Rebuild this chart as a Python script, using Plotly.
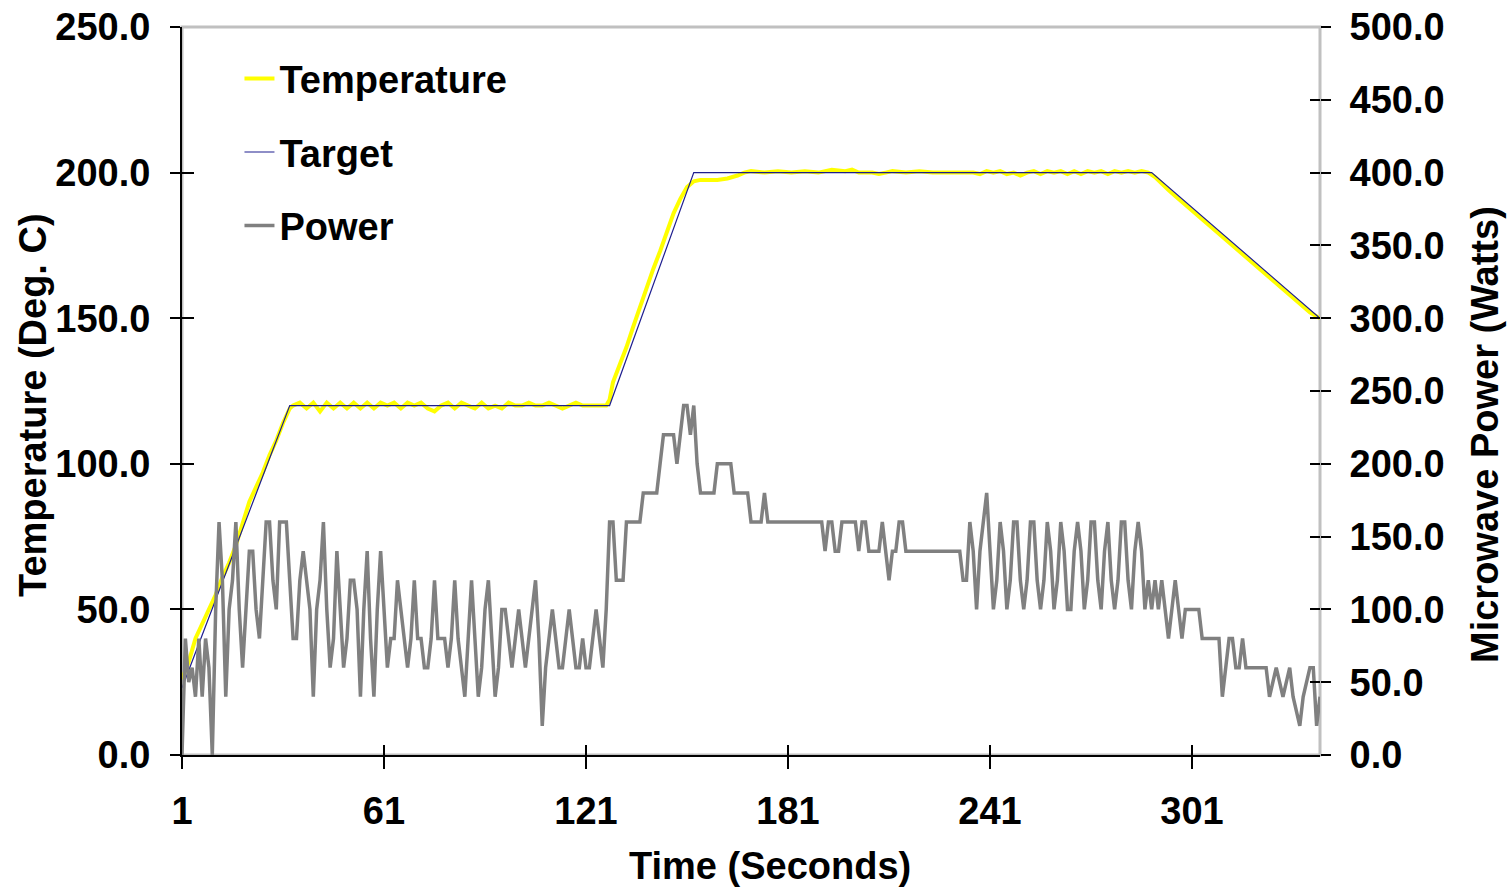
import plotly.graph_objects as go

# Time axis (seconds), one power sample per second
time_s = list(range(1, 340))

# Microwave power (Watts), one value per second
power_w = [
    0, 80, 50, 60, 40, 80, 40, 80, 60, 0,
    100, 160, 120, 40, 100, 120, 160, 100, 60, 100,
    140, 140, 100, 80, 120, 160, 160, 120, 100, 160,
    160, 160, 120, 80, 80, 120, 140, 120, 100, 40,
    100, 120, 160, 100, 60, 80, 140, 100, 60, 80,
    120, 120, 100, 40, 100, 140, 80, 40, 100, 140,
    100, 60, 80, 80, 120, 100, 80, 60, 80, 120,
    80, 80, 60, 60, 80, 120, 80, 80, 80, 60,
    80, 120, 80, 60, 40, 80, 120, 80, 40, 60,
    100, 120, 80, 40, 60, 100, 100, 80, 60, 80,
    100, 80, 60, 80, 100, 120, 80, 20, 60, 80,
    100, 80, 60, 60, 80, 100, 80, 60, 60, 80,
    60, 60, 80, 100, 80, 60, 100, 160, 160, 120,
    120, 120, 160, 160, 160, 160, 160, 180, 180, 180,
    180, 180, 200, 220, 220, 220, 220, 200, 220, 240,
    240, 220, 240, 200, 180, 180, 180, 180, 180, 200,
    200, 200, 200, 200, 180, 180, 180, 180, 180, 160,
    160, 160, 160, 180, 160, 160, 160, 160, 160, 160,
    160, 160, 160, 160, 160, 160, 160, 160, 160, 160,
    160, 140, 160, 160, 140, 140, 160, 160, 160, 160,
    160, 140, 160, 160, 140, 140, 140, 140, 160, 140,
    120, 140, 140, 160, 160, 140, 140, 140, 140, 140,
    140, 140, 140, 140, 140, 140, 140, 140, 140, 140,
    140, 140, 120, 120, 160, 140, 100, 140, 160, 180,
    140, 100, 120, 160, 140, 100, 120, 160, 160, 120,
    100, 120, 160, 160, 120, 100, 120, 160, 140, 100,
    120, 160, 140, 100, 100, 140, 160, 140, 100, 120,
    160, 160, 120, 100, 140, 160, 120, 100, 120, 160,
    160, 120, 100, 140, 160, 140, 100, 120, 100, 120,
    100, 120, 100, 80, 100, 120, 100, 80, 100, 100,
    100, 100, 100, 80, 80, 80, 80, 80, 80, 40,
    60, 80, 80, 60, 60, 80, 60, 60, 60, 60,
    60, 60, 60, 40, 50, 60, 50, 40, 50, 60,
    40, 30, 20, 40, 50, 60, 60, 20, 40,
]

# Target profile (Deg. C)
target_time = [1, 33, 128, 153, 289, 339]
target_c = [23, 120, 120, 200, 200, 150]

# Measured temperature (Deg. C)
temp_time = [
    1, 3, 5, 7, 9, 11, 13, 15, 17, 19, 21, 23, 25, 27, 29, 31, 33, 34,
    36, 38, 40, 42, 44, 46, 48, 50, 52, 54, 56, 58, 60, 62, 64, 66, 68, 70,
    72, 74, 76, 78, 80, 82, 84, 86, 88, 90, 92, 94, 96, 98, 100, 102, 104,
    106, 108, 110, 112, 114, 116, 118, 120, 122, 124, 126, 127, 128, 129,
    131, 133, 135, 137, 139, 141, 143, 145, 147, 149, 151, 153, 155, 160,
    163, 166, 168, 170, 174, 178, 182, 186, 190, 194, 198, 200, 202, 206,
    208, 210, 212, 216, 220, 224, 228, 232, 236, 238, 240, 242, 244, 246,
    248, 250, 252, 254, 256, 258, 260, 262, 264, 266, 268, 270, 272, 274,
    276, 278, 280, 282, 284, 286, 288, 290, 292, 294, 296, 300, 304, 308,
    312, 316, 320, 324, 328, 332, 336, 339,
]
temp_c = [
    26, 32, 40, 45, 50, 55, 61, 66, 72, 80, 87, 92, 97, 103, 108, 114, 119, 120,
    121, 119, 121, 118, 121, 119, 121, 119, 121, 119, 121, 119, 121, 120, 121, 119, 121, 120,
    121, 119, 118, 120, 121, 119, 121, 120, 119, 121, 119, 120, 119, 121, 120, 120, 121,
    120, 120, 121, 120, 119, 120, 121, 120, 120, 120, 120, 120, 122, 128,
    134, 140, 147, 154, 160, 167, 173, 180, 186, 191, 195, 197, 197.5, 197.5,
    198, 199, 200, 200.5, 200, 200.5, 200, 200.5, 200, 201, 200.5, 201, 200, 200,
    199.5, 200, 200.5, 200, 200.5, 200, 200, 200, 200, 199.5, 200.5, 200, 200.5, 199.5,
    200, 199, 200, 200.5, 199.5, 200.5, 200, 200.5, 199.5, 200.5, 199.5, 200.5, 200, 200.5,
    199.5, 200.5, 200, 200.5, 200, 200.5, 200, 198.5, 196, 194, 192, 188, 184, 180,
    176, 172, 168, 164, 160, 156, 152, 150,
]

left_ticks = [0, 50, 100, 150, 200, 250]
right_ticks = [0, 50, 100, 150, 200, 250, 300, 350, 400, 450, 500]
x_ticks = [1, 61, 121, 181, 241, 301]

FONT = "Liberation Sans"
FRAME = "#c0c0c0"

fig = go.Figure()
fig.add_trace(
    go.Scatter(
        x=temp_time, y=temp_c, mode="lines", name="Temperature",
        line={"color": "#ffff00", "width": 4}, legendgroup="a",
    )
)
fig.add_trace(
    go.Scatter(
        x=target_time, y=target_c, mode="lines", name="Target",
        line={"color": "#1f1f8f", "width": 1.2}, legendgroup="b",
    )
)
fig.add_trace(
    go.Scatter(
        x=time_s, y=power_w, mode="lines", name="Power", yaxis="y2",
        line={"color": "#808080", "width": 3.5}, legendgroup="c",
    )
)
# empty traces so the tick-only overlay axes get drawn
fig.add_trace(go.Scatter(x=[], y=[], xaxis="x2", yaxis="y3", showlegend=False))
fig.add_trace(go.Scatter(x=[], y=[], xaxis="x2", yaxis="y4", showlegend=False))

tickfont = {"family": FONT, "size": 38, "color": "black", "weight": "bold"}
common = {
    "showgrid": False, "zeroline": False, "tickcolor": "black", "tickwidth": 2,
    "automargin": False,
}

# axis titles as annotations so they sit where the original puts them
titles = [
    {"text": "Time (Seconds)", "x": 0.5167, "y": -0.1525, "textangle": 0},
    {"text": "Temperature (Deg. C)", "x": -0.1309, "y": 0.4808, "textangle": -90},
    {"text": "Microwave Power (Watts)", "x": 1.145, "y": 0.4396, "textangle": -90},
]

fig.update_layout(
    width=1507,
    height=888,
    margin={"l": 182, "r": 187, "t": 27, "b": 133},
    paper_bgcolor="white",
    plot_bgcolor="white",
    font={"family": FONT, "color": "black", "weight": "bold"},
    showlegend=True,
    legend={
        "x": 0.0505, "y": 0.972, "xanchor": "left", "yanchor": "top",
        "font": {"family": FONT, "size": 38, "weight": "bold"},
        "bgcolor": "rgba(0,0,0,0)", "tracegroupgap": 21, "itemwidth": 30,
    },
    xaxis={
        **common, "range": [1, 339], "tickvals": x_ticks, "ticks": "outside",
        "ticklen": 12, "tickfont": tickfont, "showline": True, "linecolor": "black",
        "linewidth": 2, "ticklabelstandoff": 9,
    },
    xaxis2={
        **common, "range": [1, 339], "tickvals": x_ticks, "ticks": "inside",
        "ticklen": 10, "showticklabels": False, "overlaying": "x", "anchor": "y",
        "side": "bottom",
    },
    yaxis={
        **common, "range": [0, 250], "tickvals": left_ticks, "tickformat": ".1f",
        "ticks": "outside", "ticklen": 10, "tickfont": tickfont, "showline": True,
        "linecolor": "black", "linewidth": 2, "ticklabelstandoff": 12,
    },
    yaxis2={
        **common, "range": [0, 500], "tickvals": right_ticks, "tickformat": ".1f",
        "ticks": "outside", "ticklen": 10, "tickfont": tickfont, "overlaying": "y",
        "side": "right", "showline": False, "ticklabelstandoff": 11,
    },
    yaxis3={
        **common, "range": [0, 250], "tickvals": left_ticks, "ticks": "inside",
        "ticklen": 12, "showticklabels": False, "overlaying": "y", "side": "left",
        "anchor": "x2",
    },
    yaxis4={
        **common, "range": [0, 500], "tickvals": right_ticks, "ticks": "inside",
        "ticklen": 10, "showticklabels": False, "overlaying": "y", "side": "right",
        "anchor": "x2",
    },
    annotations=[
        {
            **t, "xref": "paper", "yref": "paper", "xanchor": "center",
            "yanchor": "middle", "showarrow": False, "font": tickfont,
        }
        for t in titles
    ],
    shapes=[
        {
            "type": "rect", "xref": "paper", "yref": "paper",
            "x0": 0, "x1": 1, "y0": 0, "y1": 1,
            "line": {"color": FRAME, "width": 3}, "layer": "below",
        }
    ],
)

fig.write_html(
    "out.html",
    config={"displayModeBar": False},
    post_script="document.body.style.margin='0';",
)
